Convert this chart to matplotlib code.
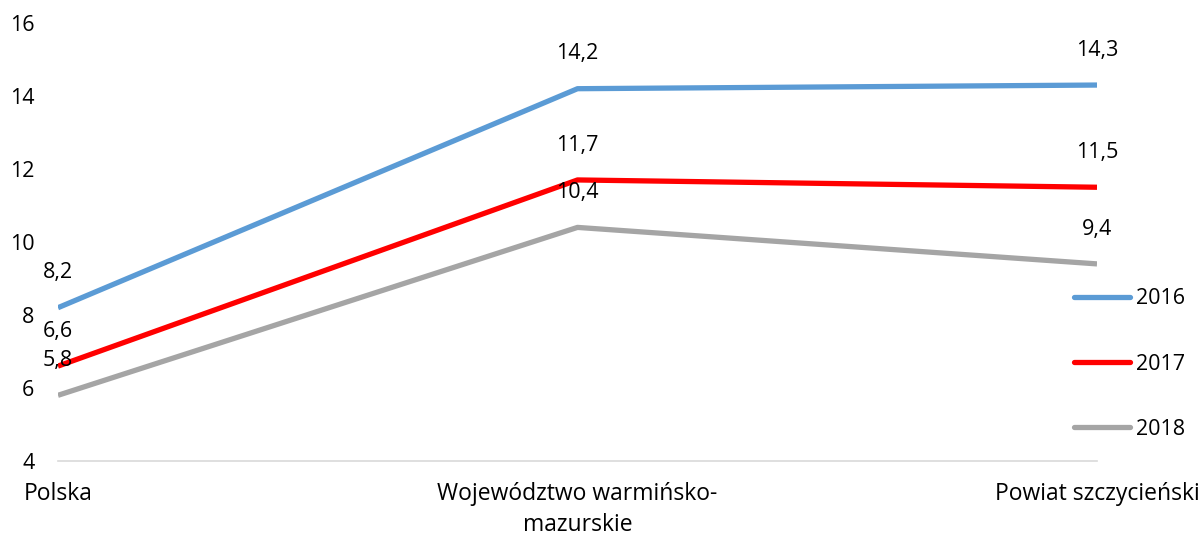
import matplotlib
matplotlib.use("Agg")
import matplotlib.pyplot as plt

categories = ["Polska", "Województwo warmińsko-\nmazurskie", "Powiat szczycieński"]
years = ["2016", "2017", "2018"]
values_2016 = [8.2, 14.2, 14.3]
values_2017 = [6.6, 11.7, 11.5]
values_2018 = [5.8, 10.4, 9.4]
yticks = [4, 6, 8, 10, 12, 14, 16]

colors = ["#5B9BD5", "#FF0000", "#A5A5A5"]
series = [values_2016, values_2017, values_2018]

plt.rcParams['font.family'] = ['Open Sans', 'DejaVu Sans']

W, H = 1203, 537
fig = plt.figure(figsize=(W / 100, H / 100), dpi=100)
ax = fig.add_axes([58 / W, 1 - 461 / H, (1097 - 58) / W, (461 - 23) / H])

x = list(range(len(categories)))
handles = []
for vals, col, lab in zip(series, colors, years):
    h, = ax.plot(x, vals, color=col, lw=3.8, solid_capstyle='butt', label=lab)
    handles.append(h)
    for xi, v in zip(x, vals):
        ax.annotate(f"{v:.1f}".replace(".", ","), (xi, v), xytext=(0, 25),
                    textcoords='offset points', ha='center', va='center',
                    fontsize=15.5, color='black')

ax.set_xlim(0, 2)
ax.set_ylim(4, 16)
ax.set_yticks(yticks)
ax.set_yticklabels([str(t) for t in yticks], fontsize=15.5)
ax.set_xticks(x)
ax.set_xticklabels(categories, fontsize=16.5, linespacing=1.4)
ax.tick_params(axis='both', length=0)
ax.tick_params(axis='y', pad=17)
ax.tick_params(axis='x', pad=15)
for s in ['top', 'right', 'left']:
    ax.spines[s].set_visible(False)
ax.spines['bottom'].set_color('#D9D9D9')
ax.spines['bottom'].set_linewidth(1.2)

leg = fig.legend(handles=handles, labels=years, loc='center left',
                 bbox_to_anchor=(1055 / W, 1 - 364 / H), frameon=False,
                 fontsize=15.5, handlelength=2.6, handletextpad=0.25,
                 labelspacing=2.05)
for lh in leg.get_lines():
    lh.set_solid_capstyle('round')

fig.savefig("out.png", dpi=100)
